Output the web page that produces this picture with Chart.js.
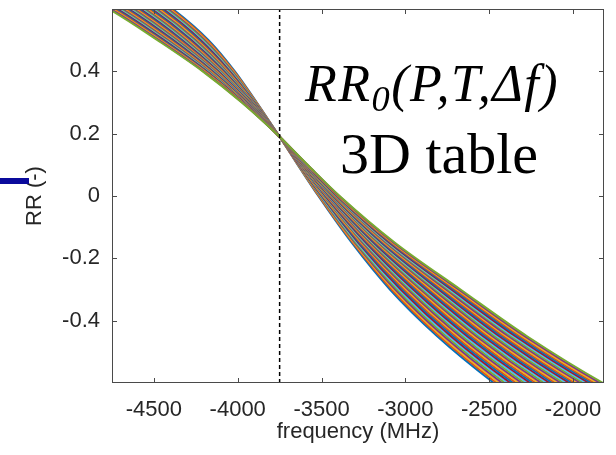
<!DOCTYPE html>
<html><head><meta charset="utf-8">
<script src="https://cdn.jsdelivr.net/npm/chart.js@4.4.1/dist/chart.umd.min.js"></script>
<style>
html,body{margin:0;padding:0;background:#fff;}
#wrap{position:relative;width:616px;height:455px;overflow:hidden;}
#c{position:absolute;left:0;top:0;}
.ann{position:absolute;font-family:"Liberation Serif","Times New Roman",serif;color:#000;white-space:nowrap;line-height:1;}
.ann sub{font-size:0.7em;vertical-align:-0.28em;line-height:0;}
#bar{position:absolute;left:0;top:178px;width:29px;height:6px;background:#0a0a9c;}
</style></head><body>
<div id="wrap">
<canvas id="c" width="616" height="455"></canvas>
<div id="bar"></div>
<div class="ann" style="left:305px;top:58px;font-size:52px;letter-spacing:1.5px;"><i>RR<sub>0</sub>(P,T,Δf)</i></div>
<div class="ann" style="left:340px;top:125px;font-size:58px;">3D table</div>
</div>
<script>
// Axis ranges and ticks
const freqMin = -4750, freqMax = -1815;
const rrMin = -0.6, rrMax = 0.6;
const freqTicks = [-4500, -4000, -3500, -3000, -2500, -2000];
const rrTicks = [-0.4, -0.2, 0, 0.2, 0.4];

// vertical dashed marker
const markerFreq = -3750;

// common crossing point of all curves
const crossFreq = -3750, crossRR = 0.19;

// RR levels at which each curve's frequency was read (above and below the crossing)
const rrUpper = [0.66, 0.6, 0.5, 0.4, 0.3];
const rrLower = [0.1, 0, -0.15, -0.3, -0.45, -0.6, -0.66];

// frequency (MHz) of each of the 40 curves at each RR level
const f_p066 = [-4550,-4561,-4573,-4584,-4595,-4606,-4618,-4629,-4640,-4652,-4663,-4674,-4685,-4697,-4708,-4719,-4731,-4742,-4753,-4764,-4776,-4787,-4798,-4809,-4821,-4832,-4843,-4855,-4866,-4877,-4888,-4900,-4911,-4922,-4934,-4945,-4956,-4967,-4979,-4990];
const f_p060 = [-4387,-4397,-4407,-4416,-4426,-4436,-4446,-4456,-4465,-4475,-4485,-4495,-4505,-4514,-4524,-4534,-4544,-4554,-4563,-4573,-4583,-4593,-4603,-4612,-4622,-4632,-4642,-4652,-4661,-4671,-4681,-4691,-4701,-4710,-4720,-4730,-4740,-4750,-4759,-4769];
const f_p050 = [-4174,-4182,-4190,-4197,-4205,-4213,-4221,-4229,-4237,-4244,-4252,-4260,-4268,-4276,-4284,-4291,-4299,-4307,-4315,-4323,-4331,-4338,-4346,-4354,-4362,-4370,-4378,-4385,-4393,-4401,-4409,-4417,-4425,-4432,-4440,-4448,-4456,-4464,-4471,-4479];
const f_p040 = [-4017,-4022,-4027,-4032,-4037,-4042,-4047,-4052,-4056,-4061,-4066,-4071,-4076,-4081,-4086,-4091,-4096,-4101,-4106,-4111,-4116,-4121,-4125,-4130,-4135,-4140,-4145,-4150,-4155,-4160,-4165,-4170,-4175,-4180,-4185,-4190,-4194,-4199,-4204,-4209];
const f_p030 = [-3886,-3888,-3891,-3893,-3895,-3898,-3900,-3902,-3904,-3907,-3909,-3911,-3914,-3916,-3918,-3921,-3923,-3925,-3927,-3930,-3932,-3934,-3937,-3939,-3941,-3944,-3946,-3948,-3950,-3953,-3955,-3957,-3960,-3962,-3964,-3967,-3969,-3971,-3973,-3976];
const f_p010 = [-3642,-3640,-3639,-3637,-3636,-3634,-3633,-3631,-3630,-3628,-3627,-3625,-3624,-3622,-3621,-3619,-3618,-3616,-3615,-3613,-3612,-3610,-3608,-3607,-3605,-3604,-3602,-3601,-3599,-3598,-3596,-3595,-3593,-3592,-3590,-3589,-3587,-3586,-3584,-3583];
const f_000 = [-3519,-3516,-3512,-3509,-3506,-3503,-3499,-3496,-3493,-3490,-3486,-3483,-3480,-3477,-3473,-3470,-3467,-3464,-3460,-3457,-3454,-3451,-3447,-3444,-3441,-3438,-3434,-3431,-3428,-3425,-3421,-3418,-3415,-3411,-3408,-3405,-3402,-3398,-3395,-3392];
const f_m015 = [-3320,-3313,-3307,-3300,-3294,-3287,-3280,-3274,-3267,-3260,-3254,-3247,-3241,-3234,-3227,-3221,-3214,-3208,-3201,-3194,-3188,-3181,-3174,-3168,-3161,-3155,-3148,-3141,-3135,-3128,-3122,-3115,-3108,-3102,-3095,-3088,-3082,-3075,-3069,-3062];
const f_m030 = [-3092,-3081,-3070,-3060,-3049,-3038,-3027,-3016,-3006,-2995,-2984,-2973,-2962,-2952,-2941,-2930,-2919,-2908,-2898,-2887,-2876,-2865,-2854,-2844,-2833,-2822,-2811,-2800,-2790,-2779,-2768,-2757,-2746,-2736,-2725,-2714,-2703,-2692,-2682,-2671];
const f_m045 = [-2810,-2796,-2783,-2769,-2755,-2741,-2728,-2714,-2700,-2686,-2673,-2659,-2645,-2631,-2618,-2604,-2590,-2576,-2563,-2549,-2535,-2522,-2508,-2494,-2480,-2467,-2453,-2439,-2425,-2412,-2398,-2384,-2370,-2357,-2343,-2329,-2315,-2302,-2288,-2274];
const f_m060 = [-2472,-2455,-2439,-2422,-2405,-2388,-2372,-2355,-2338,-2322,-2305,-2288,-2271,-2255,-2238,-2221,-2205,-2188,-2171,-2154,-2138,-2121,-2104,-2088,-2071,-2054,-2037,-2021,-2004,-1987,-1971,-1954,-1937,-1920,-1904,-1887,-1870,-1854,-1837,-1820];
const f_m066 = [-2316,-2298,-2279,-2261,-2242,-2224,-2206,-2187,-2169,-2151,-2132,-2114,-2095,-2077,-2059,-2040,-2022,-2003,-1985,-1967,-1948,-1930,-1912,-1893,-1875,-1856,-1838,-1820,-1801,-1783,-1764,-1746,-1728,-1709,-1691,-1672,-1654,-1636,-1617,-1599];

const upperCols = [f_p066, f_p060, f_p050, f_p040, f_p030];
const lowerCols = [f_p010, f_000, f_m015, f_m030, f_m045, f_m060, f_m066];

const lineColors = ['#0072BD','#D95319','#EDB120','#7E2F8E','#77AC30','#4DBEEE','#A2142F'];

const datasets = [{
  data: [{x: markerFreq, y: rrMin}, {x: markerFreq, y: rrMax}],
  borderColor: '#000', borderWidth: 1.5, borderDash: [4, 3], pointRadius: 0, fill: false
}];
const nCurves = f_p066.length;
for (let k = nCurves - 1; k >= 0; k--) {
  const pts = [];
  rrUpper.forEach((r, j) => pts.push({x: upperCols[j][k], y: r}));
  pts.push({x: crossFreq, y: crossRR});
  rrLower.forEach((r, j) => pts.push({x: lowerCols[j][k], y: r}));
  datasets.push({
    data: pts, borderColor: lineColors[k % lineColors.length], borderWidth: 2,
    pointRadius: 0, fill: false, cubicInterpolationMode: 'monotone'
  });
}

const tickFont = {family: '"Liberation Sans", Arial, sans-serif', size: 22};
const frame = {
  id: 'frame',
  afterDatasetsDraw(chart) {
    const {ctx, chartArea: a, scales: {x, y}} = chart;
    ctx.save();
    ctx.strokeStyle = '#4a4a4a';
    ctx.lineWidth = 1;
    ctx.strokeRect(a.left + 0.5, a.top + 0.5, a.right - a.left - 1, a.bottom - a.top - 1);
    ctx.beginPath();
    x.ticks.forEach(t => {
      const p = Math.round(x.getPixelForValue(t.value)) + 0.5;
      ctx.moveTo(p, a.bottom); ctx.lineTo(p, a.bottom - 5);
      ctx.moveTo(p, a.top); ctx.lineTo(p, a.top + 5);
    });
    y.ticks.forEach(t => {
      const p = Math.round(y.getPixelForValue(t.value)) + 0.5;
      ctx.moveTo(a.left, p); ctx.lineTo(a.left + 5, p);
      ctx.moveTo(a.right, p); ctx.lineTo(a.right - 5, p);
    });
    ctx.stroke();
    ctx.restore();
  }
};

new Chart(document.getElementById('c'), {
  type: 'line',
  data: {datasets},
  options: {
    responsive: false, animation: false, events: [],
    layout: {padding: {top: 9, right: 12, left: 0, bottom: 0}},
    plugins: {legend: {display: false}, tooltip: {enabled: false}},
    scales: {
      x: {
        type: 'linear', min: freqMin, max: freqMax,
        afterBuildTicks: s => { s.ticks = freqTicks.map(v => ({value: v})); },
        afterFit: s => { s.height = 72; s.paddingLeft = 0; s.paddingRight = 0; },
        grid: {drawOnChartArea: false, drawTicks: false},
        border: {display: false},
        ticks: {font: tickFont, color: '#262626', padding: 14, maxRotation: 0, autoSkip: false, callback: v => String(v)},
        title: {display: true, text: 'frequency (MHz)', font: tickFont, color: '#262626', padding: {top: 0, bottom: 10}}
      },
      y: {
        type: 'linear', min: rrMin, max: rrMax,
        afterBuildTicks: s => { s.ticks = rrTicks.map(v => ({value: v})); },
        afterFit: s => { s.width = 112; s.paddingTop = 0; s.paddingBottom = 0; },
        grid: {drawOnChartArea: false, drawTicks: false},
        border: {display: false},
        ticks: {font: tickFont, color: '#262626', padding: 12, autoSkip: false, callback: v => String(v)},
        title: {display: true, text: 'RR (-)', font: tickFont, color: '#262626', padding: {top: 22, bottom: 0}}
      }
    }
  },
  plugins: [frame]
});
</script>
</body></html>
